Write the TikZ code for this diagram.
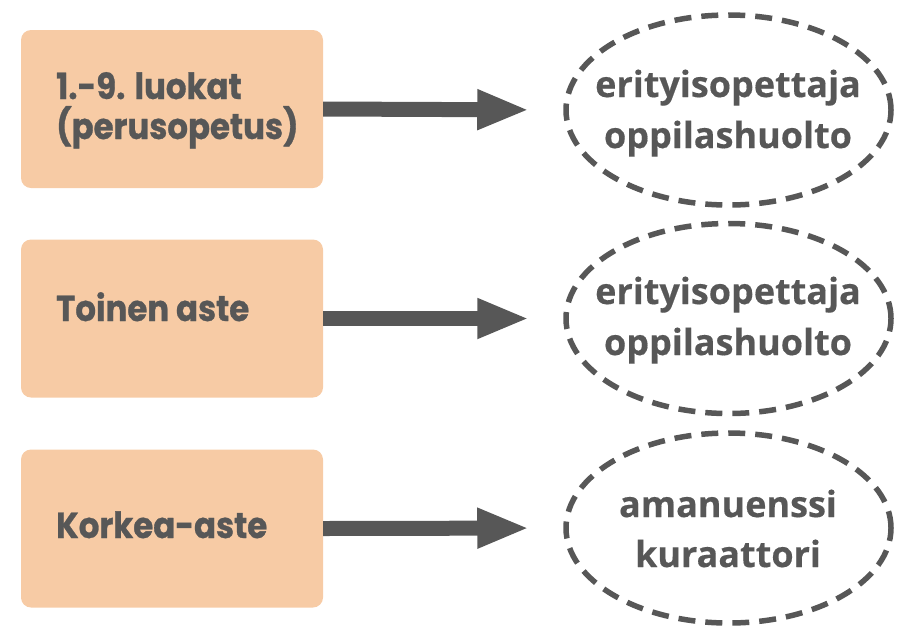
\documentclass[tikz,border=0pt]{standalone}
\usepackage{fontspec}
\setmainfont{Open Sans}[BoldFeatures={FakeBold=0.4}]
\newfontfamily\leftfont{Poppins}[FakeStretch=0.9, BoldFeatures={FakeBold=0.8}]
\usetikzlibrary{arrows.meta,shapes.geometric}
\definecolor{boxfill}{HTML}{F7CBA5}
\definecolor{ink}{HTML}{575757}
\tikzset{
  levelbox/.style={draw=none, fill=boxfill, rounded corners=10pt, minimum width=302pt, minimum height=158pt, inner sep=0pt},
  ltxt/.style={anchor=base west, inner sep=0pt, text=ink, font=\leftfont\bfseries\fontsize{36}{40}\selectfont},
  rtxt/.style={anchor=base, inner sep=0pt, text=ink, font=\bfseries\fontsize{36}{50}\selectfont},
  supportell/.style={ellipse, draw=ink, line width=5.5pt, dash pattern=on 17pt off 10pt, minimum width=325pt, minimum height=190pt, inner sep=0pt},
  bigarrow/.style={draw=ink, line width=15pt, -{Triangle[length=52pt,width=37pt]}, shorten >=34pt}
}
\begin{document}
\begin{tikzpicture}[x=1pt,y=-1pt]
\useasboundingbox (0,0) rectangle (904,625);
% boxes
\node[levelbox] (b1) at (172,109) {};
\node[levelbox] (b2) at (172,318.5) {};
\node[levelbox] (b3) at (172,528.5) {};
\node[ltxt] (b1a) at (56,99) {1.-9. luokat};
\node[ltxt] (b1b) at (56,139) {(perusopetus)};
\node[ltxt] (b2a) at (56,321) {Toinen aste};
\node[ltxt] (b3a) at (56,538) {Korkea-aste};
% ellipses
\node[supportell] (e1) at (728.5,110) {};
\node[supportell] (e2) at (728.5,318.5) {};
\node[supportell] (e3) at (728.5,528) {};
\node[rtxt] (e1a) at (728,97) {erityisopettaja};
\node[rtxt] (e1b) at (728,148) {oppilashuolto};
\node[rtxt] (e2a) at (728,304) {erityisopettaja};
\node[rtxt] (e2b) at (728,355) {oppilashuolto};
\node[rtxt] (e3a) at (728,517) {amanuenssi};
\node[rtxt] (e3b) at (728,567) {kuraattori};
% arrows
\draw[bigarrow] (b1.east) -- (e1.west);
\draw[bigarrow] (b2.east) -- (e2.west);
\draw[bigarrow] (b3.east) -- (e3.west);
\end{tikzpicture}
\end{document}
